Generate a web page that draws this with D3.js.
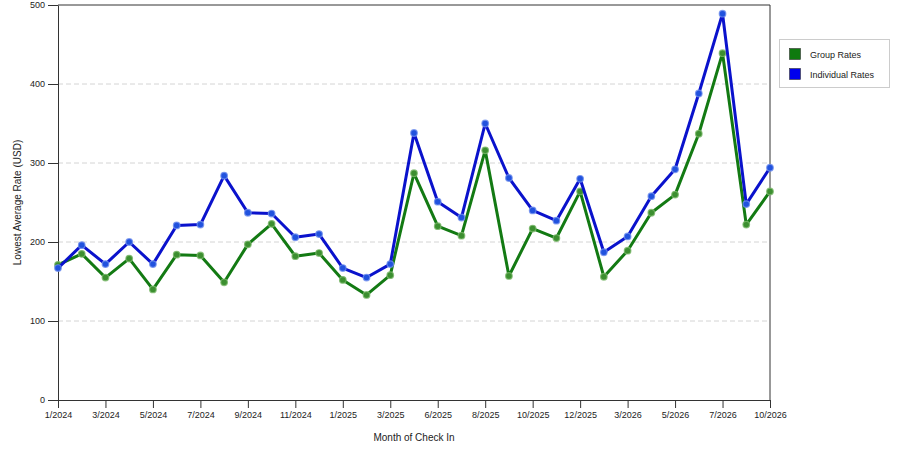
<!DOCTYPE html>
<html>
<head>
<meta charset="utf-8">
<script src="https://cdn.jsdelivr.net/npm/d3@7"></script>
<style>
  body { margin: 0; background: #fff; }
  svg { font-family: "Liberation Sans", Arial, sans-serif; }
</style>
</head>
<body>
<div id="chart"></div>
<script>
// Months shown on the x axis (some months are absent in the source data)
const months = [
  "1/2024", "2/2024", "3/2024", "4/2024", "5/2024", "6/2024", "7/2024", "8/2024",
  "9/2024", "10/2024", "11/2024", "12/2024", "1/2025", "2/2025", "3/2025", "4/2025",
  "6/2025", "7/2025", "8/2025", "9/2025", "10/2025", "11/2025", "12/2025", "2/2026",
  "3/2026", "4/2026", "5/2026", "6/2026", "7/2026", "9/2026", "10/2026"
];
const groupRates = [
  171, 185, 155, 179, 140, 184, 183, 149, 197, 223, 182, 186, 152, 133, 158, 287,
  220, 208, 316, 157, 217, 205, 264, 156, 189, 237, 260, 337, 439, 222, 264
];
const individualRates = [
  167, 196, 172, 200, 172, 221, 222, 284, 237, 236, 206, 210, 167, 155, 172, 338,
  251, 231, 350, 281, 240, 227, 280, 187, 207, 258, 292, 388, 489, 248, 294
];
const yTicks = [0, 100, 200, 300, 400, 500];
const seriesNames = ["Group Rates", "Individual Rates"];

const width = 900, height = 450;
const margin = { top: 5, right: 130, bottom: 50, left: 58 };

const svg = d3.create("svg")
  .attr("width", width)
  .attr("height", height);

const x = d3.scalePoint()
  .domain(months)
  .range([margin.left, width - margin.right]);

const y = d3.scaleLinear()
  .domain([0, 500])
  .range([height - margin.bottom, margin.top]);

// dashed gridlines
svg.append("g")
  .selectAll("line")
  .data(yTicks.filter(d => d > 0 && d < 500))
  .join("line")
  .attr("x1", margin.left)
  .attr("x2", width - margin.right)
  .attr("y1", d => y(d))
  .attr("y2", d => y(d))
  .attr("stroke", "#d4d4d4")
  .attr("stroke-dasharray", "5,3");

// plot frame (top and right)
svg.append("path")
  .attr("d", `M${margin.left},${y(500)}H${width - margin.right}V${y(0)}`)
  .attr("fill", "none")
  .attr("stroke", "#333");

// x axis
svg.append("g")
  .attr("transform", `translate(0,${y(0)})`)
  .call(d3.axisBottom(x)
    .tickValues(months.filter((d, i) => i % 2 === 0))
    .tickSize(8)
    .tickPadding(4)
    .tickSizeOuter(0))
  .call(g => g.select(".domain").attr("stroke", "#333"))
  .call(g => g.selectAll(".tick line").attr("stroke", "#333"))
  .call(g => g.selectAll("text").attr("font-size", 9).attr("font-family", null).attr("fill", "#222"));

// y axis
svg.append("g")
  .attr("transform", `translate(${margin.left},0)`)
  .call(d3.axisLeft(y)
    .tickValues(yTicks)
    .tickSize(10)
    .tickPadding(3)
    .tickSizeOuter(0))
  .call(g => g.select(".domain").attr("stroke", "#333"))
  .call(g => g.selectAll(".tick line").attr("stroke", "#333"))
  .call(g => g.selectAll("text").attr("font-size", 9).attr("font-family", null).attr("fill", "#222"));

// axis titles
svg.append("text")
  .attr("x", (margin.left + width - margin.right) / 2)
  .attr("y", 441)
  .attr("text-anchor", "middle")
  .attr("font-size", 10)
  .attr("fill", "#222")
  .text("Month of Check In");

svg.append("text")
  .attr("transform", `translate(21,${(y(0) + y(500)) / 2}) rotate(-90)`)
  .attr("text-anchor", "middle")
  .attr("font-size", 10)
  .attr("fill", "#222")
  .text("Lowest Average Rate (USD)");

const series = [
  { name: seriesNames[0], values: groupRates, line: "#137a13", dot: "#3c8f30", halo: "#7ab86a", swatch: "#0f7a0f" },
  { name: seriesNames[1], values: individualRates, line: "#0a12cc", dot: "#2152de", halo: "#6f8fee", swatch: "#0000ee" }
];

const line = d3.line()
  .x((d, i) => x(months[i]))
  .y(d => y(d));

series.forEach(s => {
  svg.append("path")
    .attr("d", line(s.values))
    .attr("fill", "none")
    .attr("stroke", s.line)
    .attr("stroke-width", 3)
    .attr("stroke-linejoin", "round");

  svg.append("g")
    .selectAll("circle")
    .data(s.values)
    .join("circle")
    .attr("cx", (d, i) => x(months[i]))
    .attr("cy", d => y(d))
    .attr("r", 3.3)
    .attr("fill", s.dot)
    .attr("stroke", s.halo)
    .attr("stroke-opacity", 0.8)
    .attr("stroke-width", 1.2);
});

// legend
const legend = svg.append("g").attr("transform", "translate(779,39)");
legend.append("rect")
  .attr("x", 0.5).attr("y", 0.5)
  .attr("width", 110).attr("height", 48)
  .attr("fill", "#fff")
  .attr("stroke", "#ccc");

series.forEach((s, i) => {
  legend.append("rect")
    .attr("x", 10.5).attr("y", 9.5 + i * 20)
    .attr("width", 11).attr("height", 11)
    .attr("fill", s.swatch)
    .attr("stroke", "#333")
    .attr("stroke-width", 0.6);
  legend.append("text")
    .attr("x", 31).attr("y", 18.5 + i * 20)
    .attr("font-size", 9)
    .attr("fill", "#222")
    .text(s.name);
});

document.getElementById("chart").appendChild(svg.node());
</script>
</body>
</html>
